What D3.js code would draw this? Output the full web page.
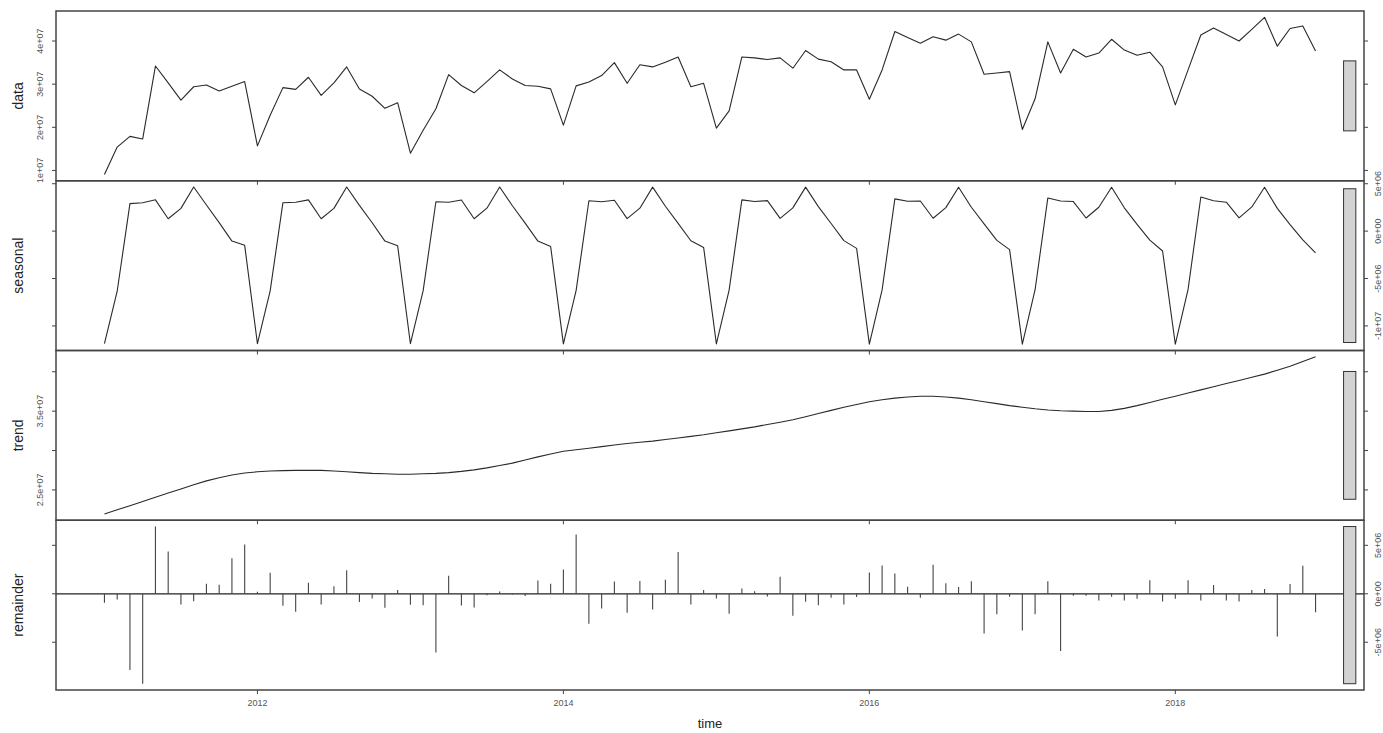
<!DOCTYPE html>
<html>
<head>
<meta charset="utf-8">
<script src="https://cdn.jsdelivr.net/npm/d3@7/dist/d3.min.js"></script>
<style>
  html, body { margin: 0; padding: 0; background: #fff; overflow: hidden; }
  svg { display: block; font-family: "Liberation Sans", Arial, Helvetica, sans-serif; }
</style>
</head>
<body>
<div id="chart"></div>
<script>
// monthly series, Jan 2011 .. Dec 2018
const startYear = 2011;

const dataValues = [
  0.907e7, 1.542e7, 1.79e7, 1.73e7, 3.42e7, 3.03e7, 2.63e7, 2.94e7, 2.98e7, 2.84e7, 2.95e7, 3.06e7,
  1.57e7, 2.28e7, 2.92e7, 2.88e7, 3.16e7, 2.74e7, 3.03e7, 3.40e7, 2.89e7, 2.72e7, 2.44e7, 2.57e7,
  1.40e7, 1.93e7, 2.43e7, 3.22e7, 2.97e7, 2.80e7, 3.06e7, 3.33e7, 3.12e7, 2.97e7, 2.95e7, 2.89e7,
  2.05e7, 2.96e7, 3.05e7, 3.20e7, 3.50e7, 3.02e7, 3.45e7, 3.40e7, 3.51e7, 3.63e7, 2.94e7, 3.02e7,
  1.98e7, 2.38e7, 3.63e7, 3.61e7, 3.57e7, 3.61e7, 3.37e7, 3.78e7, 3.58e7, 3.52e7, 3.33e7, 3.33e7,
  2.65e7, 3.33e7, 4.22e7, 4.08e7, 3.95e7, 4.10e7, 4.02e7, 4.16e7, 3.98e7, 3.23e7, 3.26e7, 3.29e7,
  1.95e7, 2.66e7, 3.98e7, 3.26e7, 3.81e7, 3.63e7, 3.72e7, 4.04e7, 3.79e7, 3.67e7, 3.74e7, 3.40e7,
  2.52e7, 3.33e7, 4.14e7, 4.30e7, 4.15e7, 4.00e7, 4.27e7, 4.55e7, 3.88e7, 4.29e7, 4.35e7, 3.77e7
];

const seasonalValues = [
  -11.87e6, -6.34e6, 2.90e6, 3.00e6, 3.30e6, 1.30e6, 2.40e6, 4.65e6, 2.75e6, 0.90e6, -1.05e6, -1.50e6,
  -11.88e6, -6.30e6, 3.00e6, 3.05e6, 3.30e6, 1.30e6, 2.40e6, 4.65e6, 2.72e6, 0.88e6, -1.05e6, -1.55e6,
  -11.88e6, -6.28e6, 3.10e6, 3.05e6, 3.28e6, 1.30e6, 2.42e6, 4.65e6, 2.68e6, 0.85e6, -1.05e6, -1.62e6,
  -11.90e6, -6.25e6, 3.20e6, 3.10e6, 3.25e6, 1.32e6, 2.42e6, 4.64e6, 2.62e6, 0.82e6, -1.02e6, -1.72e6,
  -11.90e6, -6.22e6, 3.30e6, 3.12e6, 3.22e6, 1.34e6, 2.45e6, 4.64e6, 2.58e6, 0.80e6, -1.00e6, -1.82e6,
  -11.92e6, -6.20e6, 3.40e6, 3.15e6, 3.18e6, 1.36e6, 2.48e6, 4.63e6, 2.52e6, 0.76e6, -0.98e6, -1.95e6,
  -11.92e6, -6.18e6, 3.50e6, 3.18e6, 3.12e6, 1.38e6, 2.52e6, 4.62e6, 2.46e6, 0.72e6, -0.95e6, -2.10e6,
  -11.93e6, -6.15e6, 3.60e6, 3.20e6, 3.05e6, 1.40e6, 2.55e6, 4.62e6, 2.40e6, 0.68e6, -0.92e6, -2.30e6
];

const trendValues = [
  2.195e7, 2.248e7, 2.30e7, 2.354e7, 2.407e7, 2.46e7, 2.513e7, 2.566e7, 2.615e7, 2.655e7, 2.69e7, 2.715e7,
  2.73e7, 2.74e7, 2.745e7, 2.748e7, 2.75e7, 2.748e7, 2.74e7, 2.73e7, 2.72e7, 2.71e7, 2.705e7, 2.70e7,
  2.70e7, 2.705e7, 2.71e7, 2.72e7, 2.735e7, 2.755e7, 2.78e7, 2.81e7, 2.84e7, 2.88e7, 2.92e7, 2.955e7,
  2.99e7, 3.01e7, 3.03e7, 3.05e7, 3.07e7, 3.09e7, 3.105e7, 3.12e7, 3.14e7, 3.16e7, 3.18e7, 3.20e7,
  3.225e7, 3.25e7, 3.275e7, 3.30e7, 3.33e7, 3.36e7, 3.39e7, 3.43e7, 3.47e7, 3.51e7, 3.55e7, 3.585e7,
  3.62e7, 3.645e7, 3.665e7, 3.68e7, 3.69e7, 3.69e7, 3.68e7, 3.665e7, 3.645e7, 3.62e7, 3.595e7, 3.57e7,
  3.55e7, 3.53e7, 3.515e7, 3.505e7, 3.50e7, 3.495e7, 3.495e7, 3.51e7, 3.535e7, 3.57e7, 3.61e7, 3.65e7,
  3.69e7, 3.73e7, 3.77e7, 3.81e7, 3.85e7, 3.89e7, 3.93e7, 3.97e7, 4.02e7, 4.07e7, 4.13e7, 4.19e7
];

const remainderValues = [
  -0.93e6, -0.58e6, -7.87e6, -9.28e6, 6.94e6, 4.36e6, -1.10e6, -0.76e6, 1.03e6, 0.93e6, 3.68e6, 5.09e6,
  0.20e6, 2.16e6, -1.24e6, -1.86e6, 1.13e6, -1.10e6, 0.79e6, 2.44e6, -0.86e6, -0.48e6, -1.44e6, 0.38e6,
  -1.13e6, -1.17e6, -6.05e6, 1.86e6, -1.20e6, -1.41e6, -0.14e6, 0.24e6, -0.07e6, -0.24e6, 1.37e6, 1.03e6,
  2.51e6, 6.12e6, -3.09e6, -1.51e6, 1.27e6, -1.96e6, 1.31e6, -1.62e6, 1.44e6, 4.30e6, -1.10e6, 0.38e6,
  -0.48e6, -2.06e6, 0.55e6, 0.27e6, -0.27e6, 1.75e6, -2.27e6, -0.82e6, -1.17e6, -0.41e6, -1.10e6, -0.34e6,
  2.20e6, 2.92e6, 2.10e6, 0.72e6, -0.41e6, 3.00e6, 1.10e6, 0.70e6, 1.30e6, -4.10e6, -2.10e6, -0.30e6,
  -3.80e6, -2.10e6, 1.30e6, -5.90e6, -0.20e6, -0.20e6, -0.70e6, -0.30e6, -0.70e6, -0.50e6, 1.40e6, -0.80e6,
  -0.50e6, 1.40e6, -0.70e6, 0.90e6, -0.70e6, -0.80e6, 0.40e6, 0.50e6, -4.40e6, 1.00e6, 2.90e6, -1.90e6
];

const panelNames = ['data', 'seasonal', 'trend', 'remainder'];
const xTicks = [2012, 2014, 2016, 2018];
const dataTicks = [1e7, 2e7, 3e7, 4e7];
const seasonalTicks = [-1e7, -5e6, 0, 5e6];
const trendTicks = [2.5e7, 3e7, 3.5e7, 4e7];
const trendLabelTicks = [2.5e7, 3.5e7];
const remainderTicks = [-5e6, 0, 5e6];

const width = 1383, height = 733;
const plotLeft = 56, plotRight = 1364, plotTop = 11, plotBottom = 690;
const panelH = (plotBottom - plotTop) / 4;

const svg = d3.select('#chart').append('svg')
  .attr('width', width)
  .attr('height', height);

const times = dataValues.map((d, i) => startYear + i / 12);

// R-style 4% padding
function padded(ext) {
  const p = (ext[1] - ext[0]) * 0.04;
  return [ext[0] - p, ext[1] + p];
}

const x = d3.scaleLinear().domain(padded(d3.extent(times))).range([plotLeft, plotRight]);

const series = [dataValues, seasonalValues, trendValues, remainderValues];
const ticks = [dataTicks, seasonalTicks, trendTicks, remainderTicks];
const labelTicks = [dataTicks, seasonalTicks, trendLabelTicks, remainderTicks];
const fmt = v => {
  if (v === 0) return '0e+00';
  const e = Math.floor(Math.log10(Math.abs(v)));
  const m = v / Math.pow(10, e);
  return (Math.round(m * 10) / 10) + 'e+' + String(e).padStart(2, '0');
};

// range bar length = smallest range among the components
const barLen = d3.min(series, s => d3.max(s) - d3.min(s));
const dx = (plotRight - plotLeft) / 64;

series.forEach((vals, k) => {
  const y0 = plotTop + k * panelH;
  const y1 = y0 + panelH;
  const y = d3.scaleLinear().domain(padded(d3.extent(vals))).range([y1, y0]);
  const g = svg.append('g');
  const labelsOnLeft = k % 2 === 0;

  if (k === 3) {
    // remainder as vertical bars from zero
    g.append('line')
      .attr('x1', plotLeft).attr('x2', plotRight)
      .attr('y1', y(0)).attr('y2', y(0))
      .attr('stroke', '#222').attr('stroke-width', 1.2);
    g.selectAll('line.rem')
      .data(vals)
      .join('line')
      .attr('class', 'rem')
      .attr('x1', (d, i) => x(times[i])).attr('x2', (d, i) => x(times[i]))
      .attr('y1', y(0)).attr('y2', d => y(d))
      .attr('stroke', '#444').attr('stroke-width', 1.1);
  } else {
    const line = d3.line().x((d, i) => x(times[i])).y(d => y(d));
    g.append('path')
      .datum(vals)
      .attr('d', line)
      .attr('fill', 'none')
      .attr('stroke', '#2a2a2a')
      .attr('stroke-width', 1.1)
      .attr('stroke-linejoin', 'round');
  }

  // range bar
  const mid = d3.mean(y.domain());
  g.append('rect')
    .attr('x', plotRight - dx)
    .attr('width', 0.6 * dx)
    .attr('y', y(mid + barLen / 2))
    .attr('height', y(mid - barLen / 2) - y(mid + barLen / 2))
    .attr('fill', '#d3d3d3')
    .attr('stroke', '#333')
    .attr('stroke-width', 1);

  // frame
  g.append('rect')
    .attr('x', plotLeft).attr('y', y0)
    .attr('width', plotRight - plotLeft).attr('height', panelH)
    .attr('fill', 'none').attr('stroke', '#444').attr('stroke-width', 1.5);

  // y axis ticks on both sides, labels alternate
  const tl = 4;
  ticks[k].forEach(t => {
    g.append('line')
      .attr('x1', plotLeft - tl).attr('x2', plotLeft)
      .attr('y1', y(t)).attr('y2', y(t))
      .attr('stroke', '#444');
    g.append('line')
      .attr('x1', plotRight).attr('x2', plotRight + tl)
      .attr('y1', y(t)).attr('y2', y(t))
      .attr('stroke', '#444');
  });
  labelTicks[k].forEach(t => {
    const lx = labelsOnLeft ? 40 : 1378;
    g.append('text')
      .attr('transform', `translate(${lx},${y(t)}) rotate(-90)`)
      .attr('text-anchor', 'middle')
      .attr('dy', '0.35em')
      .attr('font-size', 9)
      .attr('fill', '#555')
      .text(fmt(t));
  });

  // panel title
  g.append('text')
    .attr('transform', `translate(18,${(y0 + y1) / 2}) rotate(-90)`)
    .attr('text-anchor', 'middle')
    .attr('dy', '0.35em')
    .attr('font-size', 14)
    .attr('fill', '#222')
    .text(panelNames[k]);

  // x ticks below each panel
  xTicks.forEach(t => {
    g.append('line')
      .attr('x1', x(t)).attr('x2', x(t))
      .attr('y1', y1).attr('y2', y1 + 4)
      .attr('stroke', '#444');
  });
});

// bottom axis labels
xTicks.forEach(t => {
  svg.append('text')
    .attr('x', x(t)).attr('y', 706)
    .attr('text-anchor', 'middle')
    .attr('font-size', 9)
    .attr('fill', '#555')
    .text(t);
});

svg.append('text')
  .attr('x', (plotLeft + plotRight) / 2).attr('y', 728)
  .attr('text-anchor', 'middle')
  .attr('font-size', 13)
  .attr('fill', '#222')
  .text('time');
</script>
</body>
</html>
